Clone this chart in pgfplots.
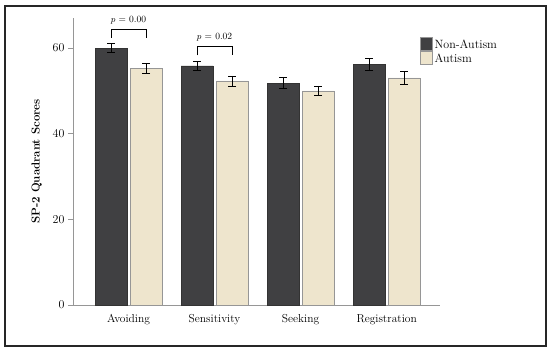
\documentclass[border=0pt]{standalone}
\usepackage{pgfplots}
\pgfplotsset{compat=1.18}
\definecolor{darkbar}{RGB}{64,64,66}
\definecolor{lightbar}{RGB}{238,229,205}
\definecolor{axgray}{RGB}{150,150,150}
\begin{document}
\begin{tikzpicture}
\begin{axis}[
  at={(0pt,0pt)},
  scale only axis, width=367pt, height=287pt,
  xmin=-0.645, xmax=3.62, ymin=0, ymax=67,
  axis x line=bottom, axis y line=left,
  axis line style={axgray, line width=0.8pt, -},
  xtick={0,1,2,3},
  xticklabels={Avoiding,Sensitivity,Seeking,Registration},
  x tick style={draw=none},
  ytick={0,20,40,60},
  y tick style={axgray, line width=0.6pt},
  tick align=outside, major tick length=5pt,
  ticklabel style={font=\fontsize{11.5}{13}\selectfont},
  xticklabel style={yshift=-1pt},
  ylabel={\textbf{SP-2 Quadrant Scores}},
  ylabel style={font=\fontsize{11.5}{13}\selectfont, yshift=4pt},
  ybar, bar width=32pt, bar shift auto=false,
  legend style={at={(0.945,0.935)}, anchor=north west, draw=none, fill=none,
    font=\fontsize{12}{13}\selectfont, inner sep=0pt, row sep=-1.5pt},
  legend image code/.code={\draw[#1, draw=axgray] (0pt,-5pt) rectangle (12pt,8pt);},
  legend cell align=left,
  clip=false,
]
\addplot[fill=darkbar, draw=black!80, line width=0.6pt, bar shift=-17.5pt,
  error bars/.cd, y dir=both, y explicit,
  error bar style={black, line width=0.9pt}, error mark options={rotate=90, mark size=4pt, black, line width=0.9pt}]
  coordinates {(0,59.9) +- (0,1.05) (1,55.8) +- (0,1.1) (2,51.8) +- (0,1.24) (3,56.1) +- (0,1.36)};
\addplot[fill=lightbar, draw=axgray, line width=0.6pt, bar shift=17.5pt,
  error bars/.cd, y dir=both, y explicit,
  error bar style={black, line width=0.9pt}, error mark options={rotate=90, mark size=4pt, black, line width=0.9pt}]
  coordinates {(0,55.3) +- (0,1.17) (1,52.3) +- (0,1.17) (2,50.0) +- (0,1.13) (3,53.0) +- (0,1.52)};
\legend{Non-Autism, Autism}
\draw[black, line width=0.8pt] (axis cs:-0.2035,62.4) -- (axis cs:-0.2035,64.3) -- (axis cs:0.2035,64.3) -- (axis cs:0.2035,62.4);
\node[font=\fontsize{9.5}{11}\selectfont] at (axis cs:0,66.6) {$p$ = 0.00};
\draw[black, line width=0.8pt] (axis cs:0.7965,58.3) -- (axis cs:0.7965,60.3) -- (axis cs:1.2035,60.3) -- (axis cs:1.2035,58.3);
\node[font=\fontsize{9.5}{11}\selectfont] at (axis cs:1,62.5) {$p$ = 0.02};
\end{axis}
\draw[line width=1.2pt, black!85] (-68pt,-41pt) rectangle (473pt,299pt);
\path[use as bounding box] (-73pt,-47pt) rectangle (477pt,305pt);
\end{tikzpicture}
\end{document}
